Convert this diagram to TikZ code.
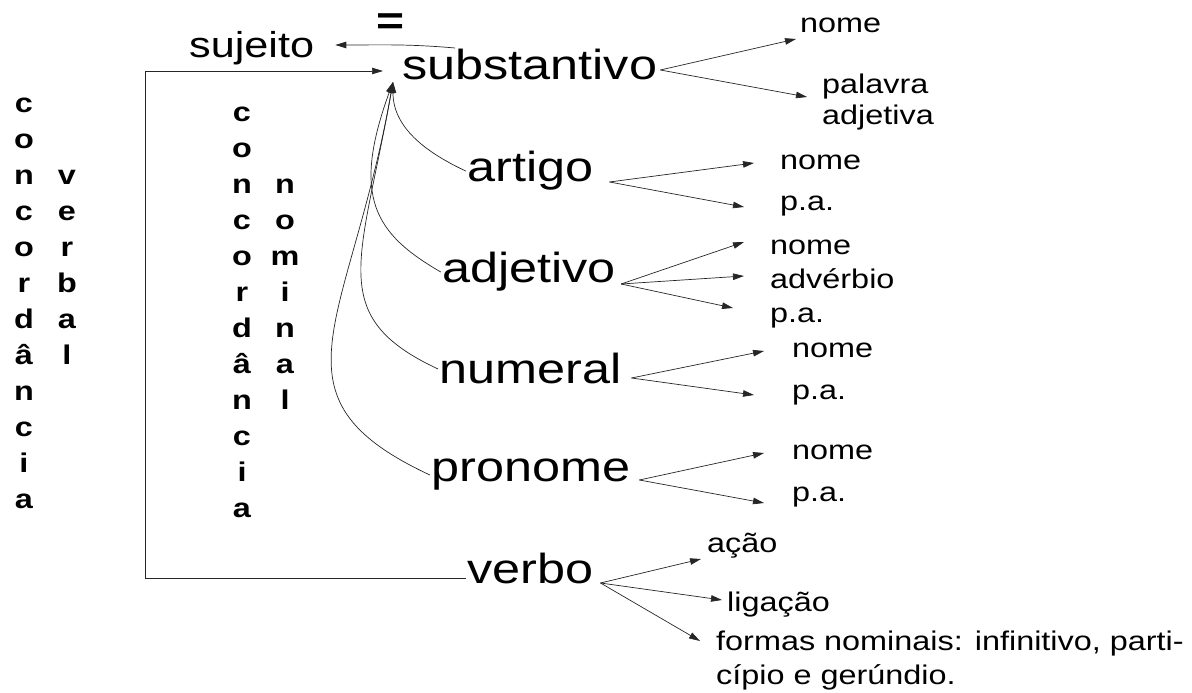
\documentclass[tikz,border=0pt]{standalone}
\usepackage{fontspec}
\setmainfont[FakeStretch=1.2]{Liberation Sans}
\usepackage{tikz}
\usetikzlibrary{arrows.meta}

\begin{document}
\begin{tikzpicture}[x=1pt,y=1pt,
  big/.style={font=\fontsize{42}{48}\selectfont, inner sep=1pt, anchor=base west},
  small/.style={font=\fontsize{27}{31}\selectfont, inner sep=1pt, anchor=base west},
  vchar/.style={font=\fontsize{27}{36}\selectfont\bfseries, inner sep=0pt, anchor=base},
  arr/.style={-{Triangle[length=11pt,width=6.5pt]}, line width=0.7pt, black!85}]
\useasboundingbox (0,0) rectangle (1192,693);
% the two vertical words on the left
\foreach \c [count=\i] in {c,o,n,c,o,r,d,â,n,c,i,a} \node[vchar] (cv\i) at (24,{580-36*(\i-1)}) {\c};
\foreach \c [count=\i] in {v,e,r,b,a,l} \node[vchar] (vb\i) at (67,{508-36*(\i-1)}) {\c};
\foreach \c [count=\i] in {c,o,n,c,o,r,d,â,n,c,i,a} \node[vchar] (cn\i) at (242,{571-36*(\i-1)}) {\c};
\foreach \c [count=\i] in {n,o,m,i,n,a,l} \node[vchar] (nm\i) at (285,{499-36*(\i-1)}) {\c};
% classes
\node[big] (subst) at (401,613) {substantivo};
\node[big,font=\fontsize{36}{40}\selectfont] (suj) at (188,635) {sujeito};
\node[font=\fontsize{40}{40}\selectfont\bfseries] (eq) at (391,669) {=};
\node[big] (artigo) at (466,511) {artigo};
\node[big] (adjetivo) at (441,410) {adjetivo};
\node[big] (numeral) at (438,309) {numeral};
\node[big] (pronome) at (430,211) {pronome};
\node[big] (verbo) at (466,109) {verbo};
% what they refer to
\node[small] (sNome) at (799,660) {nome};
\node[small,anchor=north west,align=left] (sPal) at (821,620) {palavra\\adjetiva};
\node[small] (aNome) at (779,523) {nome};
\node[small] (aPa) at (779,482) {p.a.};
\node[small] (jNome) at (769,438) {nome};
\node[small] (jAdv) at (769,404) {advérbio};
\node[small] (jPa) at (769,370) {p.a.};
\node[small] (nNome) at (791,335) {nome};
\node[small] (nPa) at (791,293) {p.a.};
\node[small] (pNome) at (791,233) {nome};
\node[small] (pPa) at (791,191) {p.a.};
\node[small] (vAcao) at (706,140) {ação};
\node[small] (vLig) at (726,81) {ligação};
\node[small,anchor=north west,align=left,font=\fontsize{27}{34}\selectfont] (vForm) at (715,63) {formas nominais: infinitivo, parti-\\cípio e gerúndio.};
% fans to the right
\coordinate (sOut) at ([shift={(2pt,10pt)}]subst.base east);
\draw[arr] (sOut) -- ([shift={(-3pt,-6pt)}]sNome.base west);
\draw[arr] (sOut) -- ([shift={(-14pt,-24pt)}]sPal.north west);
\coordinate (aOut) at ([shift={(15pt,0pt)}]artigo.base east);
\draw[arr] (aOut) -- ([shift={(-25pt,7pt)}]aNome.base west);
\draw[arr] (aOut) -- ([shift={(-35pt,4pt)}]aPa.base west);
\coordinate (jOut) at ([shift={(4pt,-1pt)}]adjetivo.base east);
\draw[arr] (jOut) -- ([shift={(-25pt,13pt)}]jNome.base west);
\draw[arr] (jOut) -- ([shift={(-25pt,13pt)}]jAdv.base west);
\draw[arr] (jOut) -- ([shift={(-36pt,15pt)}]jPa.base west);
\coordinate (nOut) at ([shift={(9pt,6pt)}]numeral.base east);
\draw[arr] (nOut) -- ([shift={(-27pt,7pt)}]nNome.base west);
\draw[arr] (nOut) -- ([shift={(-37pt,5pt)}]nPa.base west);
\coordinate (pOut) at ([shift={(8pt,2pt)}]pronome.base east);
\draw[arr] (pOut) -- ([shift={(-27pt,7pt)}]pNome.base west);
\draw[arr] (pOut) -- ([shift={(-27pt,-1pt)}]pPa.base west);
\coordinate (vOut) at ([shift={(6pt,1pt)}]verbo.base east);
\draw[arr] (vOut) -- ([shift={(-5pt,-6pt)}]vAcao.base west);
\draw[arr] (vOut) -- ([shift={(-4pt,12pt)}]vLig.base west);
\draw[arr] (vOut) -- ([shift={(-15pt,-11pt)}]vForm.north west);
% agreement arrows into substantivo
\coordinate (hub) at ([shift={(-8pt,-2pt)}]subst.base west);
\draw[arr] (artigo.west) to[out=155,in=-90,looseness=1] (hub);
\draw[arr] (adjetivo.west) to[out=150,in=-110,out looseness=1,in looseness=1.6] (hub);
\draw[arr] (numeral.west) to[out=155,in=-100,out looseness=1.1,in looseness=1.6] (hub);
\draw[arr] (pronome.west) to[out=155,in=-100,out looseness=1.2,in looseness=1.6] (hub);
\draw[arr] ([shift={(54pt,32pt)}]subst.base west) to[out=175,in=0] ([shift={(20pt,13pt)}]suj.base east);
\draw[arr] ([yshift=6pt]verbo.base west) -- ++(-321,0) |- ([shift={(-18pt,9pt)}]subst.base west);
\end{tikzpicture}
\end{document}
